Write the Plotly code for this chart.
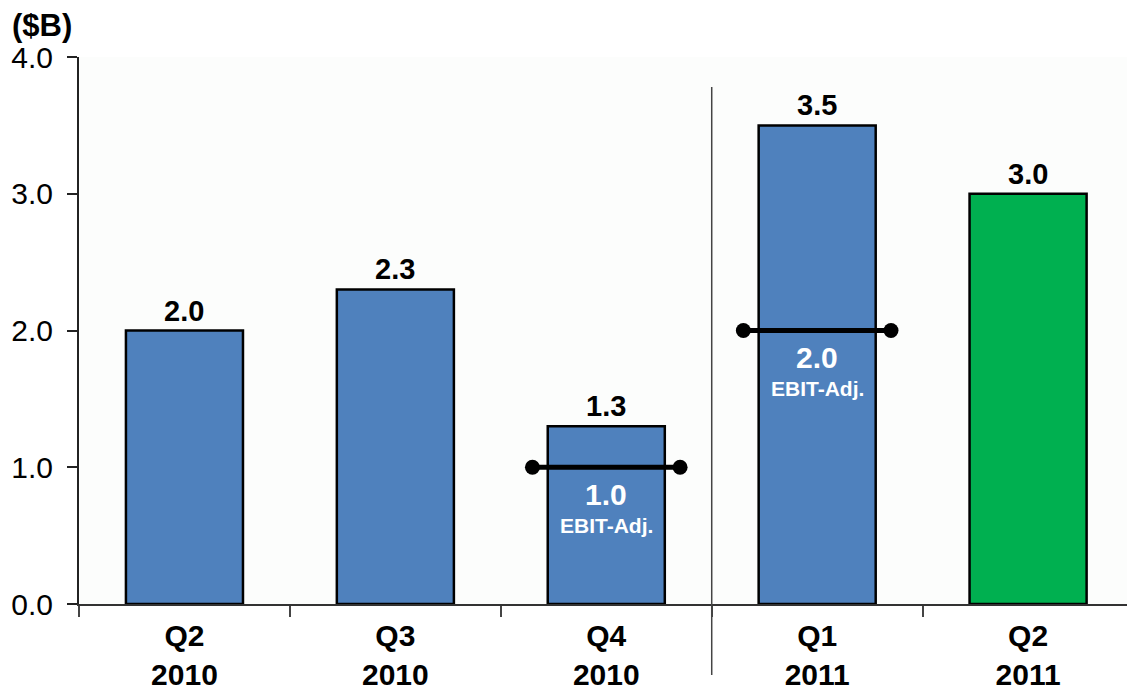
import plotly.graph_objects as go

quarters = ["Q2", "Q3", "Q4", "Q1", "Q2"]
years = ["2010", "2010", "2010", "2011", "2011"]
values = [2.0, 2.3, 1.3, 3.5, 3.0]
ebit_adj = [None, None, 1.0, 2.0, None]
y_ticks = [0.0, 1.0, 2.0, 3.0, 4.0]

categories = [f"<b>{q}</b><br><b>{y}</b>" for q, y in zip(quarters, years)]
FONT = "Liberation Sans, Arial, sans-serif"
BLUE = "#4F81BD"
GREEN = "#00B050"
colors = [BLUE] * (len(values) - 1) + [GREEN]

fig = go.Figure()
fig.add_trace(go.Bar(
    x=categories, y=values, width=0.555,
    marker=dict(color=colors, line=dict(color="black", width=2.5)),
    showlegend=False, hoverinfo="skip",
))

# EBIT-Adj. lines on an overlaid numeric axis
ex, ey = [], []
for i, e in enumerate(ebit_adj):
    if e is None:
        continue
    ex += [i - 0.35, i + 0.35, None]
    ey += [e, e, None]
fig.add_trace(go.Scatter(
    x=ex, y=ey, xaxis="x2", mode="lines+markers",
    line=dict(color="black", width=5),
    marker=dict(color="black", size=15),
    showlegend=False, hoverinfo="skip", cliponaxis=False,
))

annotations = []
for i, v in enumerate(values):
    annotations.append(dict(
        x=i, xref="x2", y=v, yref="y", text=f"<b>{v:.1f}</b>",
        showarrow=False, yanchor="bottom", yshift=2,
        font=dict(family=FONT, size=29, color="black"),
    ))
for i, e in enumerate(ebit_adj):
    if e is None:
        continue
    annotations.append(dict(
        x=i, xref="x2", y=e, yref="y", text=f"<b>{e:.1f}</b>",
        showarrow=False, yanchor="middle", yshift=-27,
        font=dict(family=FONT, size=30, color="white"),
    ))
    annotations.append(dict(
        x=i, xref="x2", y=e, yref="y", text="<b>EBIT-Adj.</b>",
        showarrow=False, yanchor="middle", yshift=-58,
        font=dict(family=FONT, size=21, color="white"),
    ))
annotations.append(dict(
    x=0, xref="paper", xanchor="left", xshift=-69,
    y=1, yref="paper", yanchor="bottom", yshift=12,
    text="<b>($B)</b>", showarrow=False,
    font=dict(family=FONT, size=31, color="black"),
))

XR = [-0.5, 4.469]
fig.update_layout(
    width=1127, height=693,
    margin=dict(l=79, r=0, t=57, b=89, autoexpand=False),
    paper_bgcolor="white", plot_bgcolor="#fcfdfc",
    font=dict(family=FONT, color="black"),
    xaxis=dict(
        type="category", range=XR, tickson="boundaries", automargin=False,
        ticks="outside", ticklen=11, tickwidth=1.5, tickcolor="#444",
        showline=True, linecolor="#333", linewidth=2,
        showgrid=False, zeroline=False, ticklabelstandoff=4,
        tickfont=dict(family=FONT, size=30, color="black"),
    ),
    xaxis2=dict(overlaying="x", range=XR, visible=False, showgrid=False),
    yaxis=dict(
        range=[0, 4], tickvals=y_ticks, ticktext=[f"{t:.1f}" for t in y_ticks],
        automargin=False,
        ticks="outside", ticklen=10, tickwidth=1.5, tickcolor="#222",
        showline=True, linecolor="#222", linewidth=2,
        showgrid=False, zeroline=False, ticklabelstandoff=8,
        tickfont=dict(family=FONT, size=30, color="black"),
    ),
    annotations=annotations,
    shapes=[dict(
        type="line", xref="x2", yref="paper",
        x0=2.5, x1=2.5, y0=-0.13, y1=0.945,
        line=dict(color="#444", width=1.5),
    )],
)
fig.write_html("out.html")
